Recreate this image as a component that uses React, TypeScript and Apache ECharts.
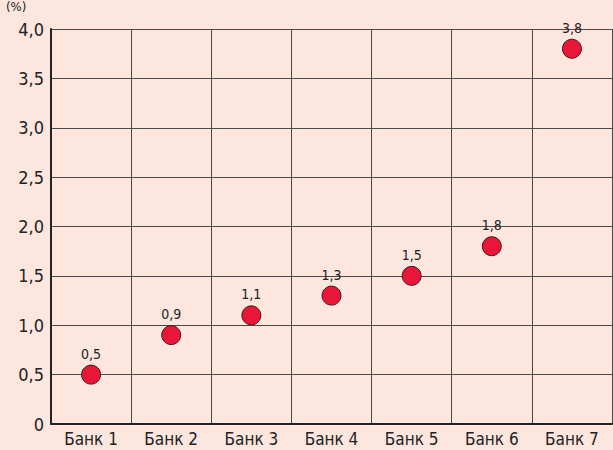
import React, { useEffect, useRef } from "react";
import * as echarts from "echarts";

const categories = ["Банк 1", "Банк 2", "Банк 3", "Банк 4", "Банк 5", "Банк 6", "Банк 7"];
const values = [0.5, 0.9, 1.1, 1.3, 1.5, 1.8, 3.8];
const unitLabel = "(%)";

const FONT = "'DejaVu Sans Condensed', 'Liberation Sans Narrow', sans-serif";
const fmt = (v: number) => (v === 0 ? "0" : v.toFixed(1).replace(".", ","));

export default function App() {
  const ref = useRef<HTMLDivElement>(null);
  useEffect(() => {
    const chart = echarts.init(ref.current!, undefined, { renderer: "svg" });
    chart.setOption({
      animation: false,
      backgroundColor: "#fde6de",
      textStyle: { fontFamily: FONT },
      grid: { left: 51, top: 29, width: 561, height: 395 },
      graphic: [
        {
          type: "text",
          left: 6,
          top: 0,
          style: { text: unitLabel, fontSize: 13, fill: "#222", fontFamily: FONT },
        },
      ],
      xAxis: {
        type: "category",
        data: categories,
        boundaryGap: true,
        axisLine: { lineStyle: { color: "#222", width: 2 } },
        axisTick: { show: false },
        axisLabel: { color: "#222", fontSize: 17, fontFamily: FONT, margin: 6 },
        splitLine: { show: true, interval: 0, lineStyle: { color: "#4a4a4a", width: 1 } },
      },
      yAxis: {
        type: "value",
        min: 0,
        max: 4,
        interval: 0.5,
        axisLine: { show: true, lineStyle: { color: "#222", width: 2 } },
        axisTick: { show: false },
        axisLabel: { color: "#222", fontSize: 18, fontFamily: FONT, margin: 7, formatter: (v: number) => fmt(v) },
        splitLine: { show: true, lineStyle: { color: "#4a4a4a", width: 1 } },
      },
      series: [
        {
          type: "scatter",
          data: values,
          symbolSize: 19,
          itemStyle: { color: "#e8173a", opacity: 1, borderColor: "#4a1515", borderWidth: 1 },
          label: {
            show: true,
            position: "top",
            distance: 4,
            color: "#222",
            fontSize: 14,
            fontFamily: FONT,
            formatter: (p: any) => fmt(p.value),
          },
        },
      ],
    });
    return () => chart.dispose();
  }, []);
  return <div ref={ref} style={{ position: "fixed", left: 0, top: 0, width: 613, height: 450 }} />;
}
